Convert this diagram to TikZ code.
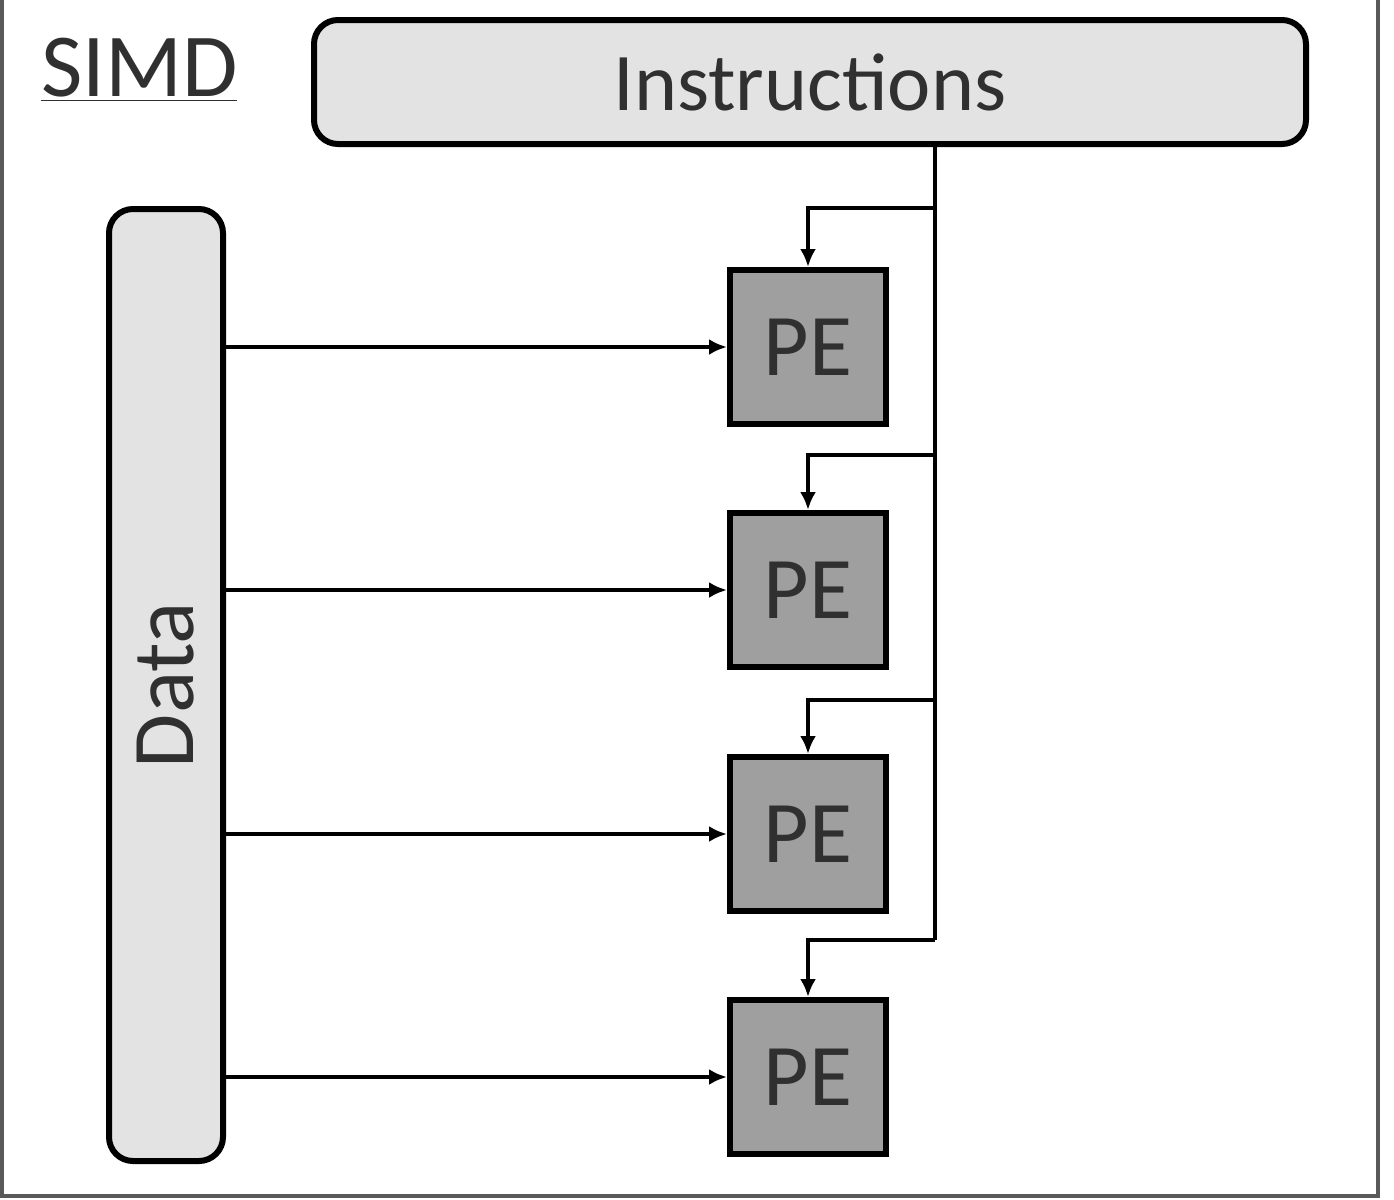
\documentclass[tikz,border=0pt]{standalone}
\usepackage{fontspec}
\setmainfont{Carlito}
\usetikzlibrary{arrows.meta}
\definecolor{txt}{HTML}{303030}
\begin{document}
\begin{tikzpicture}[x=0.5pt,y=-0.5pt,
  rbox/.style={draw=black,line width=3pt,rounded corners=12pt,fill=gray!22,inner sep=0pt,text=txt},
  pebox/.style={draw=black,line width=3pt,fill=gray!75,minimum width=78pt,minimum height=77pt,inner sep=0pt,text=txt,font=\fontsize{44}{44}\selectfont},
  conn/.style={line width=1.8pt,-{Latex[length=9pt,width=8pt]}}]
\useasboundingbox (0,0) rectangle (1394,1200);
\draw[line width=2pt,gray!70!black] (2,0) -- (2,1196) -- (1378,1196) -- (1378,0);
\node[anchor=west,text=txt,font=\fontsize{45}{45}\selectfont] (simd) at (34,70) {\underline{SIMD}};
\node[rbox,minimum width=496pt,minimum height=62pt,font=\fontsize{41}{41}\selectfont] (ins) at (810,82) {Instructions};
\node[rbox,minimum width=57pt,minimum height=476pt] (data) at (166,685) {};
\node[rotate=90,text=txt,font=\fontsize{44}{44}\selectfont] (dlab) at (166,685) {Data};
\foreach \i/\y in {1/347,2/590,3/834,4/1077}{
  \node[pebox] (pe\i) at (808,\y) {PE};
  \draw[conn] (data.east |- pe\i.west) -- (pe\i.west);
}
\coordinate (vt) at (935,146);
\draw[line width=1.8pt] (vt) -- (935,940);
\foreach \i/\y in {1/208,2/455,3/700,4/940}{
  \draw[conn] (935,\y) -- (808,\y) -- (pe\i.north);
}
\end{tikzpicture}
\end{document}
